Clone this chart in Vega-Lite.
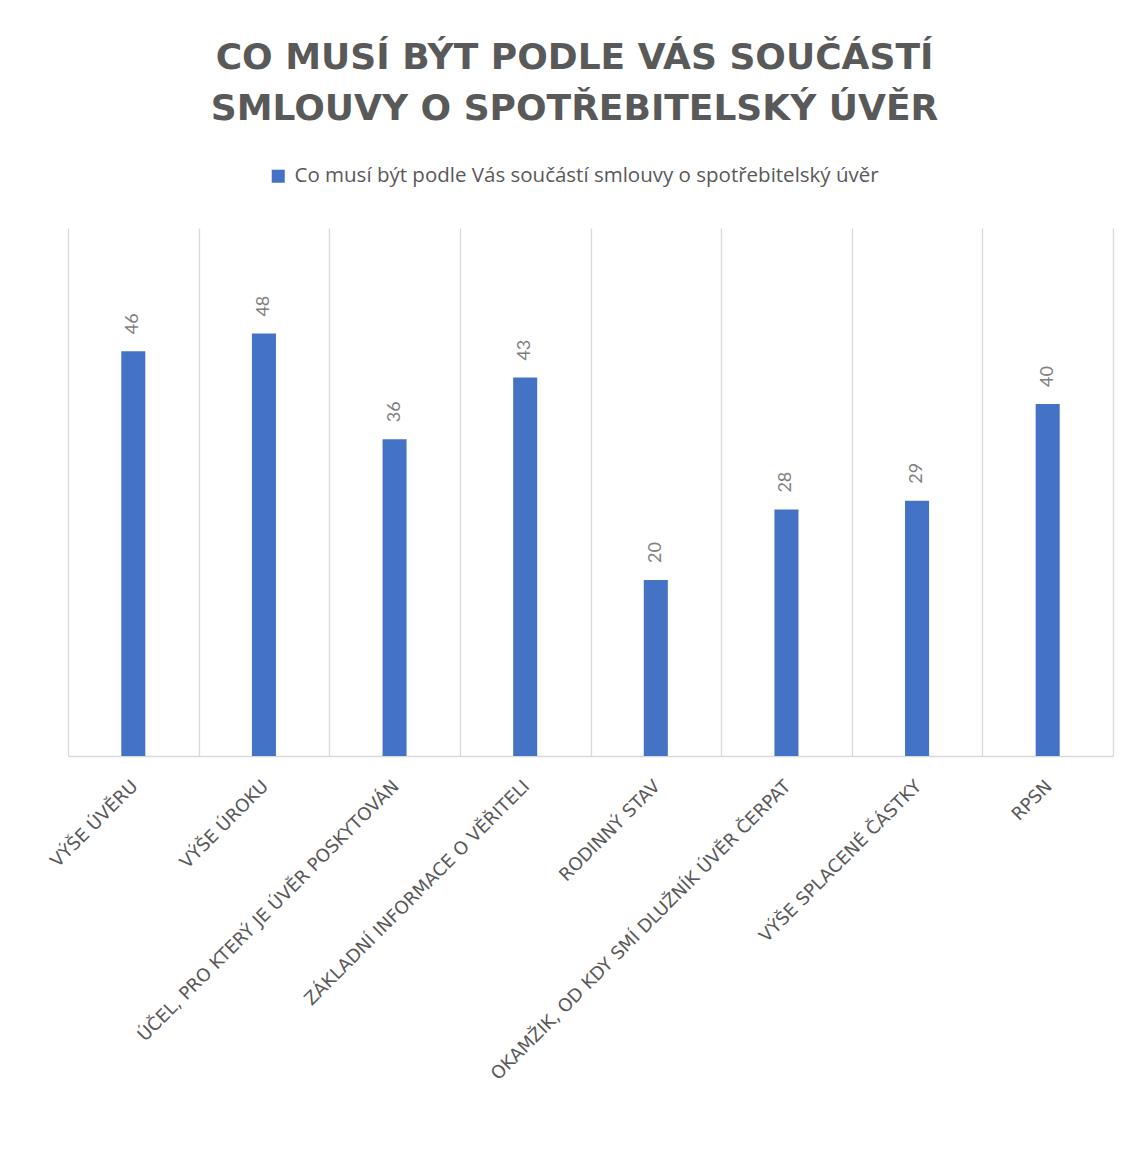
{
  "$schema": "https://vega.github.io/schema/vega-lite/v6.json",
  "autosize": "none",
  "width": 1045,
  "height": 528,
  "padding": {"left": 68, "top": 228, "right": 19, "bottom": 418},
  "background": "white",
  "title": {
    "text": ["CO MUSÍ BÝT PODLE VÁS SOUČÁSTÍ", "SMLOUVY O SPOTŘEBITELSKÝ ÚVĚR"],
    "font": "DejaVu Sans",
    "fontSize": 36,
    "fontWeight": "bold",
    "color": "#595959",
    "lineHeight": 51,
    "anchor": "middle",
    "frame": "group",
    "dx": -16,
    "offset": 38
  },
  "data": {
    "values": [
      {"kategorie": "VÝŠE ÚVĚRU", "hodnota": 46},
      {"kategorie": "VÝŠE ÚROKU", "hodnota": 48},
      {"kategorie": "ÚČEL, PRO KTERÝ JE ÚVĚR POSKYTOVÁN", "hodnota": 36},
      {"kategorie": "ZÁKLADNÍ INFORMACE O VĚŘITELI", "hodnota": 43},
      {"kategorie": "RODINNÝ STAV", "hodnota": 20},
      {"kategorie": "OKAMŽIK, OD KDY SMÍ DLUŽNÍK ÚVĚR ČERPAT", "hodnota": 28},
      {"kategorie": "VÝŠE SPLACENÉ ČÁSTKY", "hodnota": 29},
      {"kategorie": "RPSN", "hodnota": 40}
    ]
  },
  "encoding": {
    "x": {
      "field": "kategorie",
      "type": "nominal",
      "sort": null,
      "scale": {"paddingInner": 0, "paddingOuter": 0},
      "axis": {
        "title": null,
        "labelAngle": -45,
        "labelFont": "DejaVu Sans",
        "labelFontSize": 18,
        "labelColor": "#595959",
        "labelPadding": 21,
        "labelOffset": -5,
        "labelLimit": 0,
        "ticks": false,
        "grid": true,
        "tickBand": "extent",
        "gridColor": "#d9d9d9",
        "gridWidth": 1.3,
        "domainColor": "#d9d9d9",
        "domainWidth": 1.3
      }
    },
    "y": {
      "field": "hodnota",
      "type": "quantitative",
      "scale": {"domain": [0, 60]},
      "axis": null
    }
  },
  "layer": [
    {
      "mark": {"type": "bar", "width": {"band": 0.184}},
      "encoding": {
        "color": {
          "datum": "Co musí být podle Vás součástí smlouvy o spotřebitelský úvěr",
          "type": "nominal",
          "scale": {"range": ["#4472C4"]},
          "legend": {
            "title": null,
            "orient": "none",
            "legendX": 200,
            "legendY": -62,
            "symbolType": "square",
            "symbolSize": 170,
            "symbolStrokeWidth": 0,
            "labelFont": "Open Sans",
            "labelFontSize": 20.5,
            "labelColor": "#595959",
            "labelLimit": 0,
            "labelOffset": 6
          }
        }
      }
    },
    {
      "mark": {
        "type": "text",
        "angle": -90,
        "align": "left",
        "baseline": "middle",
        "dx": 17,
        "font": "Lato",
        "fontSize": 18,
        "color": "#7f7f7f"
      },
      "encoding": {
        "text": {"field": "hodnota", "type": "quantitative"}
      }
    }
  ],
  "config": {
    "view": {"stroke": null}
  }
}
